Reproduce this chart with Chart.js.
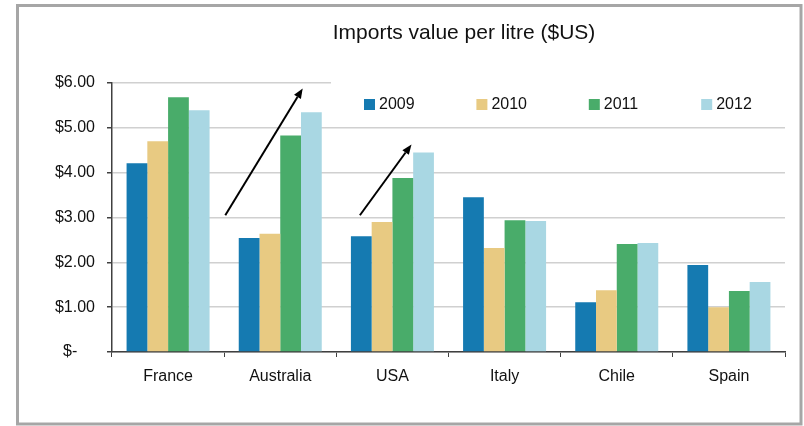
<!DOCTYPE html>
<html>
<head>
<meta charset="utf-8">
<script src="https://cdn.jsdelivr.net/npm/chart.js@4/dist/chart.umd.min.js"></script>
<style>
html,body{margin:0;padding:0;background:#fff;}
#wrap{width:804px;height:426px;position:relative;}
</style>
</head>
<body>
<div id="wrap"><canvas id="c" width="804" height="426"></canvas></div>
<script>
const title = "Imports value per litre ($US)";
const categories = ["France", "Australia", "USA", "Italy", "Chile", "Spain"];
const seriesNames = ["2009", "2010", "2011", "2012"];
const v2009 = [4.21, 2.54, 2.58, 3.45, 1.11, 1.94];
const v2010 = [4.70, 2.64, 2.90, 2.32, 1.38, 1.00];
const v2011 = [5.68, 4.83, 3.88, 2.94, 2.41, 1.36];
const v2012 = [5.39, 5.35, 4.45, 2.92, 2.43, 1.56];
const yTicks = [0, 1, 2, 3, 4, 5, 6];
const yTickLabels = ["$-    ", "$1.00", "$2.00", "$3.00", "$4.00", "$5.00", "$6.00"];
// arrows in data units: [categoryIndex, value]
const arrows = [
  { from: [0.51, 3.05], to: [1.20, 5.88] },
  { from: [1.71, 3.05], to: [2.17, 4.63] }
];
const colors = ["#157AB1", "#E8CA82", "#49AC6A", "#A9D7E3"];
const seriesValues = [v2009, v2010, v2011, v2012];

const FONT = "'Liberation Sans', Arial, sans-serif";

const decorPlugin = {
  id: 'decor',
  beforeDatasetsDraw(chart) {
    const ctx = chart.ctx;
    const ca = chart.chartArea;
    ctx.save();
    ctx.fillStyle = '#ffffff';
    ctx.fillRect(331, ca.top - 6, ca.right - 331, 44);
    ctx.restore();
  },
  afterDraw(chart) {
    const ctx = chart.ctx;
    const xs = chart.scales.x, ys = chart.scales.y;
    ctx.save();
    // frame
    ctx.strokeStyle = '#A6A6A6';
    ctx.lineWidth = 3;
    ctx.strokeRect(17.5, 5.5, 783.5, 418.5);
    // title
    ctx.fillStyle = '#111';
    ctx.font = "21px " + FONT;
    ctx.textAlign = 'center';
    ctx.textBaseline = 'middle';
    ctx.fillText(title, 464, 33);
    // legend
    ctx.font = "16px " + FONT;
    ctx.textAlign = 'left';
    chart.data.datasets.forEach((ds, i) => {
      const x = 364 + i * 112.4;
      ctx.fillStyle = ds.backgroundColor;
      ctx.fillRect(x, 99, 11, 11);
      ctx.fillStyle = '#111';
      ctx.fillText(ds.label, x + 15, 104.5);
    });
    // arrows
    ctx.strokeStyle = '#000';
    ctx.fillStyle = '#000';
    ctx.lineWidth = 2;
    arrows.forEach(a => {
      const x1 = xs.getPixelForValue(a.from[0]), y1 = ys.getPixelForValue(a.from[1]);
      const x2 = xs.getPixelForValue(a.to[0]), y2 = ys.getPixelForValue(a.to[1]);
      const ang = Math.atan2(y2 - y1, x2 - x1);
      const hl = 10, hw = 4;
      const bx = x2 - hl * Math.cos(ang), by = y2 - hl * Math.sin(ang);
      ctx.beginPath();
      ctx.moveTo(x1, y1);
      ctx.lineTo(bx, by);
      ctx.stroke();
      ctx.beginPath();
      ctx.moveTo(x2, y2);
      ctx.lineTo(bx + hw * Math.sin(ang), by - hw * Math.cos(ang));
      ctx.lineTo(bx - hw * Math.sin(ang), by + hw * Math.cos(ang));
      ctx.closePath();
      ctx.fill();
    });
    ctx.restore();
  }
};

new Chart(document.getElementById('c'), {
  type: 'bar',
  data: {
    labels: categories,
    datasets: seriesNames.map((n, i) => ({
      label: n,
      data: seriesValues[i],
      backgroundColor: colors[i],
      borderWidth: 0,
      categoryPercentage: 0.74,
      barPercentage: 1.0
    }))
  },
  options: {
    responsive: false,
    animation: false,
    devicePixelRatio: 1,
    layout: { padding: { left: 0, top: 83, right: 19, bottom: 0 } },
    plugins: { legend: { display: false }, tooltip: { enabled: false }, title: { display: false } },
    scales: {
      x: {
        grid: { display: true, drawOnChartArea: false, offset: true, color: '#404040', tickLength: 5, lineWidth: 1 },
        border: { display: true, color: '#404040', width: 1.5 },
        ticks: { color: '#111', font: { family: FONT, size: 16 }, padding: 10, maxRotation: 0 },
        afterFit(s) { s.height = 74; }
      },
      y: {
        min: 0, max: 6,
        afterBuildTicks(s) { s.ticks = yTicks.map(v => ({ value: v })); },
        grid: { color: '#D0D0D0', lineWidth: 1.5, tickLength: 5, tickColor: '#404040', drawTicks: true },
        border: { display: true, color: '#404040', width: 1.5 },
        ticks: {
          color: '#111', font: { family: FONT, size: 16 }, padding: 12,
          callback(v) { const k = yTicks.indexOf(v); return k >= 0 ? yTickLabels[k] : ''; }
        },
        afterFit(s) { s.width = 112; }
      }
    }
  },
  plugins: [decorPlugin]
});
</script>
</body>
</html>
